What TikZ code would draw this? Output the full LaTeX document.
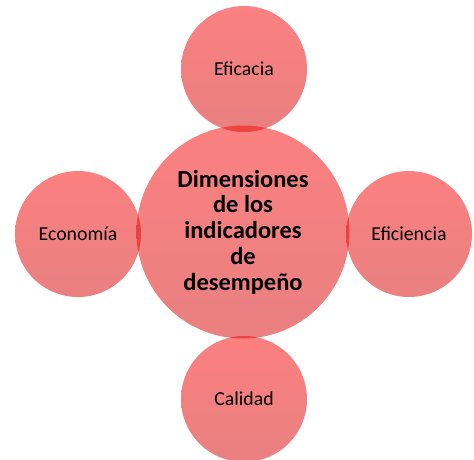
\documentclass[tikz,border=0pt]{standalone}
\usepackage{fontspec}
\setmainfont{Carlito}
\usepackage{tikz}
\usetikzlibrary{positioning}
\definecolor{bubbletop}{RGB}{248,2,2}
\definecolor{bubblebot}{RGB}{212,2,2}
\tikzset{
    bubble/.style={
        circle,
        inner sep=0pt,
        top color=bubbletop,
        bottom color=bubblebot,
        fill opacity=0.5,
        text opacity=1,
        minimum size=126pt,
        font=\fontsize{19.8}{23}\selectfont
    },
    hub/.style={
        bubble,
        minimum size=213pt,
        align=center,
        font=\fontsize{24.5}{25.8}\selectfont\bfseries
    }
}

\begin{document}
\begin{tikzpicture}[x=1pt,y=-1pt]
    \useasboundingbox (0,0) rectangle (474,459);
    \node[bubble] (eficacia) at (244,69) {Eficacia};
    \node[bubble] (economia) at (78,234) {Economía};
    \node[bubble] (eficiencia) at (409,234) {Eficiencia};
    \node[bubble] (calidad) at (244,399) {Calidad};
    \node[hub] (dim) at (243,232) {Dimensiones\\de los\\indicadores\\de\\desempeño};
\end{tikzpicture}
\end{document}
